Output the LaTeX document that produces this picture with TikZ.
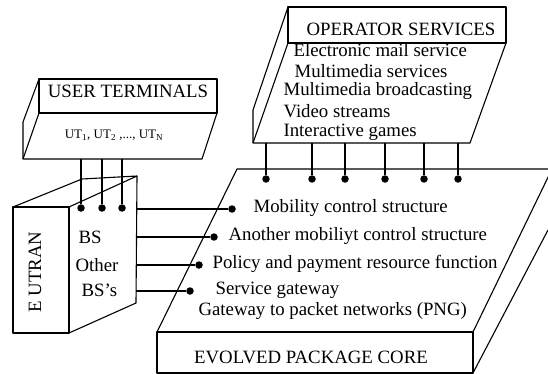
\documentclass[tikz,border=0pt]{standalone}
\usepackage{fontspec}
\setmainfont{Liberation Serif}

\begin{document}
\begin{tikzpicture}
[x=1pt,y=-1pt,line width=1.1pt,line join=round]
\tikzset{
	dot/.style = {circle, fill=black, inner sep=0pt, minimum size=7.5pt},
	big/.style = {font=\fontsize{18.8}{20}\selectfont, inner sep=0pt},
	small/.style = {font=\fontsize{13}{15}\selectfont, inner sep=0pt},
	item/.style = {big, anchor=west}
}
\useasboundingbox (0,0) rectangle (548,374);

% user terminals
\draw (39,79) rectangle (217,113);
\draw (39,113) -- (217,113) -- (202,159) -- (23,159) -- cycle;
\draw (39,79) -- (23,122) -- (23,159);
\node[big] (ushead) at (128,91) {USER TERMINALS};
\node[small] (utlist) at (114,135) {UT\textsubscript{1}, UT\textsubscript{2} ,..., UT\textsubscript{N}};

% operator services
\draw (288,7) rectangle (506,43);
\draw (288,43) -- (506,43) -- (470,143) -- (253,143) -- cycle;
\draw (288,7) -- (253,110) -- (253,143);
\node[big] (ophead) at (401,29) {OPERATOR SERVICES};
\node[item] (svc1) at (293,50) {Electronic mail service};
\node[item] (svc2) at (294,71) {Multimedia services};
\node[item] (svc3) at (283,91) {Multimedia broadcasting};
\node[item] (svc4) at (283,111) {Video streams};
\node[item] (svc5) at (283,132) {Interactive games};

% E UTRAN
\draw (13,207) rectangle (69,333);
\draw (13,207) -- (82,179) -- (137,176) -- (69,207);
\draw (137,176) -- (136,303) -- (69,333);
\node[big, rotate=90] (eutran) at (35,272) {E UTRAN};
\node[item] (bs) at (78,237) {BS};
\node[item] (other) at (75,265) {Other};
\node[item] (bss) at (81,290) {BS's};

% evolved package core
\draw (157,332) rectangle (473,373);
\draw (157,332) -- (237,169) -- (552,169) -- (473,332);
\draw (473,373) -- (548,230);
\node[item] (epc1) at (253,208) {Mobility control structure};
\node[item] (epc2) at (228,236) {Another mobiliyt control structure};
\node[item] (epc3) at (212,264) {Policy and payment resource function};
\node[item] (epc4) at (215,290) {Service gateway};
\node[item] (epc5) at (198,311) {Gateway to packet networks (PNG)};
\node[big] (epc) at (311,357) {EVOLVED PACKAGE CORE};

% dots and connectors
\coordinate (ut1) at (81,159);
\coordinate (ut2) at (102,159);
\coordinate (ut3) at (122,159);
\node[dot] (eu1) at (81,208) {};
\node[dot] (eu2) at (102,208) {};
\node[dot] (eu3) at (122,208) {};
\draw (ut1) -- (eu1);
\draw (ut2) -- (eu2);
\draw (ut3) -- (eu3);

\coordinate (bs1) at (136,209);
\coordinate (bs2) at (136,237);
\coordinate (bs3) at (136,265);
\coordinate (bs4) at (136,291);
\node[dot] (cp1) at (232,209) {};
\node[dot] (cp2) at (214,237) {};
\node[dot] (cp3) at (199,265) {};
\node[dot] (cp4) at (190,291) {};
\draw (bs1) -- (cp1);
\draw (bs2) -- (cp2);
\draw (bs3) -- (cp3);
\draw (bs4) -- (cp4);

\foreach \i/\x in {1/266,2/312,3/345,4/385,5/424,6/458}{
	\coordinate (os\i) at (\x,143);
	\node[dot] (od\i) at (\x,179) {};
	\draw (os\i) -- (od\i);
}
\end{tikzpicture}
\end{document}
